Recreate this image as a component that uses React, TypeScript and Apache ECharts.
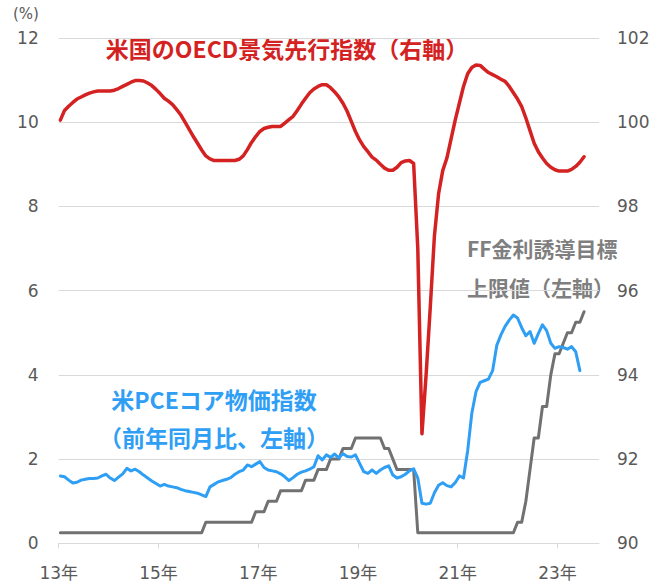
import React, { useEffect, useRef } from "react";
import * as echarts from "echarts";

// x axis: months since Jan 2013
const tickMonths = [0, 24, 48, 72, 96, 120];
const tickLabels = ["13年", "15年", "17年", "19年", "21年", "23年"];

// US OECD composite leading indicator (right axis), Jan 2013 – Jul 2023
const oecdCli = [
  100.05, 100.28, 100.38, 100.47, 100.55, 100.6, 100.65, 100.69, 100.72, 100.74,
  100.74, 100.74, 100.74, 100.76, 100.8, 100.85, 100.9, 100.95, 100.99, 100.99,
  100.98, 100.93, 100.87, 100.78, 100.68, 100.57, 100.5, 100.42, 100.3, 100.17,
  100.0, 99.83, 99.66, 99.5, 99.34, 99.2, 99.13, 99.09, 99.09, 99.09,
  99.09, 99.09, 99.09, 99.12, 99.2, 99.35, 99.52, 99.66, 99.78, 99.85,
  99.88, 99.9, 99.9, 99.9, 99.98, 100.06, 100.14, 100.28, 100.43, 100.57,
  100.7, 100.79, 100.85, 100.89, 100.89, 100.82, 100.72, 100.6, 100.45, 100.26,
  100.02, 99.78, 99.58, 99.42, 99.3, 99.17, 99.1, 99.0, 98.91, 98.86,
  98.86, 98.93, 99.04, 99.08, 99.09, 99.02, 97.0, 92.6, 94.0, 95.6,
  97.3, 98.3, 98.85, 99.15, 99.6, 100.05, 100.45, 100.85, 101.15, 101.3,
  101.36, 101.35, 101.26, 101.18, 101.13, 101.08, 101.02, 100.97, 100.85, 100.7,
  100.55, 100.37, 100.1, 99.8, 99.5, 99.3, 99.15, 99.02, 98.93, 98.87,
  98.84, 98.84, 98.84, 98.88, 98.95, 99.05, 99.18,
];

// US core PCE deflator, % y/y (left axis), Jan 2013 – Jun 2023
const corePce = [
  1.6, 1.58, 1.5, 1.43, 1.45, 1.5, 1.52, 1.54, 1.54, 1.55,
  1.6, 1.64, 1.55, 1.49, 1.57, 1.65, 1.78, 1.72, 1.76, 1.7,
  1.62, 1.55, 1.48, 1.42, 1.36, 1.4, 1.36, 1.34, 1.32, 1.28,
  1.25, 1.23, 1.21, 1.19, 1.15, 1.11, 1.34, 1.4, 1.46, 1.49,
  1.52, 1.56, 1.64, 1.7, 1.74, 1.86, 1.82, 1.88, 1.94, 1.8,
  1.74, 1.72, 1.7, 1.65, 1.58, 1.49, 1.56, 1.64, 1.69, 1.72,
  1.76, 1.82, 2.08, 1.98, 2.1, 2.04, 2.12, 2.03, 2.13, 2.06,
  2.05, 2.1, 1.9, 1.7, 1.66, 1.74, 1.66, 1.74, 1.8, 1.84,
  1.62, 1.55, 1.58, 1.64, 1.72, 1.77, 1.55, 0.95, 0.93, 0.95,
  1.2, 1.38, 1.44, 1.37, 1.34, 1.44, 1.6, 1.55, 2.2, 3.09,
  3.6, 3.82, 3.86, 3.9, 4.1, 4.7, 4.95, 5.15, 5.3, 5.42,
  5.35, 5.12, 4.93, 5.03, 4.75, 4.98, 5.19, 5.05, 4.75, 4.63,
  4.67, 4.65, 4.61, 4.67, 4.55, 4.1,
];

// Fed funds target range upper bound, % (left axis), Jan 2013 – Jul 2023
const ffUpper = [
  0.25, 0.25, 0.25, 0.25, 0.25, 0.25, 0.25, 0.25, 0.25, 0.25,
  0.25, 0.25, 0.25, 0.25, 0.25, 0.25, 0.25, 0.25, 0.25, 0.25,
  0.25, 0.25, 0.25, 0.25, 0.25, 0.25, 0.25, 0.25, 0.25, 0.25,
  0.25, 0.25, 0.25, 0.25, 0.25, 0.5, 0.5, 0.5, 0.5, 0.5,
  0.5, 0.5, 0.5, 0.5, 0.5, 0.5, 0.5, 0.75, 0.75, 0.75,
  1.0, 1.0, 1.0, 1.25, 1.25, 1.25, 1.25, 1.25, 1.25, 1.5,
  1.5, 1.5, 1.75, 1.75, 1.75, 2.0, 2.0, 2.0, 2.25, 2.25,
  2.25, 2.5, 2.5, 2.5, 2.5, 2.5, 2.5, 2.5, 2.25, 2.25,
  2.0, 1.75, 1.75, 1.75, 1.75, 1.75, 0.25, 0.25, 0.25, 0.25,
  0.25, 0.25, 0.25, 0.25, 0.25, 0.25, 0.25, 0.25, 0.25, 0.25,
  0.25, 0.25, 0.25, 0.25, 0.25, 0.25, 0.25, 0.25, 0.25, 0.25,
  0.5, 0.5, 1.0, 1.75, 2.5, 2.5, 3.25, 3.25, 4.0, 4.5,
  4.5, 4.75, 5.0, 5.0, 5.25, 5.25, 5.5,
];

const monthOffset = 0.4;
const axisFont = "'DejaVu Sans', 'Noto Sans CJK JP', sans-serif";
const cjkFont = "'Noto Sans CJK JP', 'Noto Sans', sans-serif";
const RED = "#d42222";
const BLUE = "#2f9ef5";
const GRAY_LINE = "#717171";
const GRAY_TEXT = "#7f7f7f";
const LABEL = "#595959";
const GRID = "#d9d9d9";

export default function App() {
  const ref = useRef<HTMLDivElement>(null);
  useEffect(() => {
    const chart = echarts.init(ref.current!, null, { renderer: "svg" });
    const toPairs = (arr: number[]) => arr.map((v, i) => [i + monthOffset, v]);
    const note = (text: string, x: number, y: number, fill: string, size: number, align: string) => ({
      type: "text",
      x,
      y,
      style: {
        text,
        fill,
        fontSize: size,
        fontWeight: "bold",
        fontFamily: cjkFont,
        align,
        verticalAlign: "middle",
      },
    });
    chart.setOption({
      animation: false,
      backgroundColor: "#ffffff",
      grid: { left: 58.7, right: 65, top: 38, bottom: 41.7 },
      xAxis: {
        type: "value",
        min: 0,
        max: 130,
        interval: 24,
        splitLine: { show: false },
        axisLine: { show: true, lineStyle: { color: GRID, width: 1 } },
        axisTick: { show: true, length: 5, lineStyle: { color: GRID }, customValues: tickMonths },
        axisLabel: {
          customValues: tickMonths,
          formatter: (v: number) => {
            const idx = tickMonths.indexOf(Math.round(v));
            return idx >= 0 ? tickLabels[idx] : "";
          },
          color: LABEL,
          fontSize: 17,
          fontFamily: axisFont,
          margin: 21,
        },
      },
      yAxis: [
        {
          type: "value",
          min: 0,
          max: 12,
          interval: 2,
          position: "left",
          axisLine: { show: false },
          axisTick: { show: false },
          splitLine: { show: true, lineStyle: { color: GRID, width: 1 } },
          axisLabel: { color: LABEL, fontSize: 17, fontFamily: axisFont, margin: 20 },
        },
        {
          type: "value",
          min: 90,
          max: 102,
          interval: 2,
          position: "right",
          axisLine: { show: false },
          axisTick: { show: false },
          splitLine: { show: false },
          axisLabel: { color: LABEL, fontSize: 17, fontFamily: axisFont, margin: 18 },
        },
      ],
      series: [
        {
          name: "FF",
          type: "line",
          yAxisIndex: 0,
          data: toPairs(ffUpper),
          showSymbol: false,
          lineStyle: { color: GRAY_LINE, width: 3, join: "round", cap: "round" },
          z: 2,
        },
        {
          name: "PCE",
          type: "line",
          yAxisIndex: 0,
          data: toPairs(corePce),
          showSymbol: false,
          lineStyle: { color: BLUE, width: 3, join: "round", cap: "round" },
          z: 3,
        },
        {
          name: "OECD",
          type: "line",
          yAxisIndex: 1,
          data: toPairs(oecdCli),
          showSymbol: false,
          lineStyle: { color: RED, width: 3.5, join: "round", cap: "round" },
          z: 4,
        },
      ],
      graphic: [
        {
          type: "text",
          left: 13,
          top: 6,
          style: { text: "(%)", fill: LABEL, fontSize: 15, fontFamily: axisFont },
        },
        note("米国のOECD景気先行指数（右軸）", 287, 48, RED, 23, "center"),
        note("米PCEコア物価指数", 214, 399, BLUE, 23, "center"),
        note("（前年同月比、左軸）", 214, 437, BLUE, 23, "center"),
        note("FF金利誘導目標", 467, 248, GRAY_TEXT, 21, "left"),
        note("上限値（左軸）", 467, 287, GRAY_TEXT, 21, "left"),
      ],
    });
    return () => chart.dispose();
  }, []);
  return (
    <div
      ref={ref}
      style={{ position: "absolute", left: 0, top: 0, width: 664, height: 585, background: "#fff" }}
    />
  );
}
